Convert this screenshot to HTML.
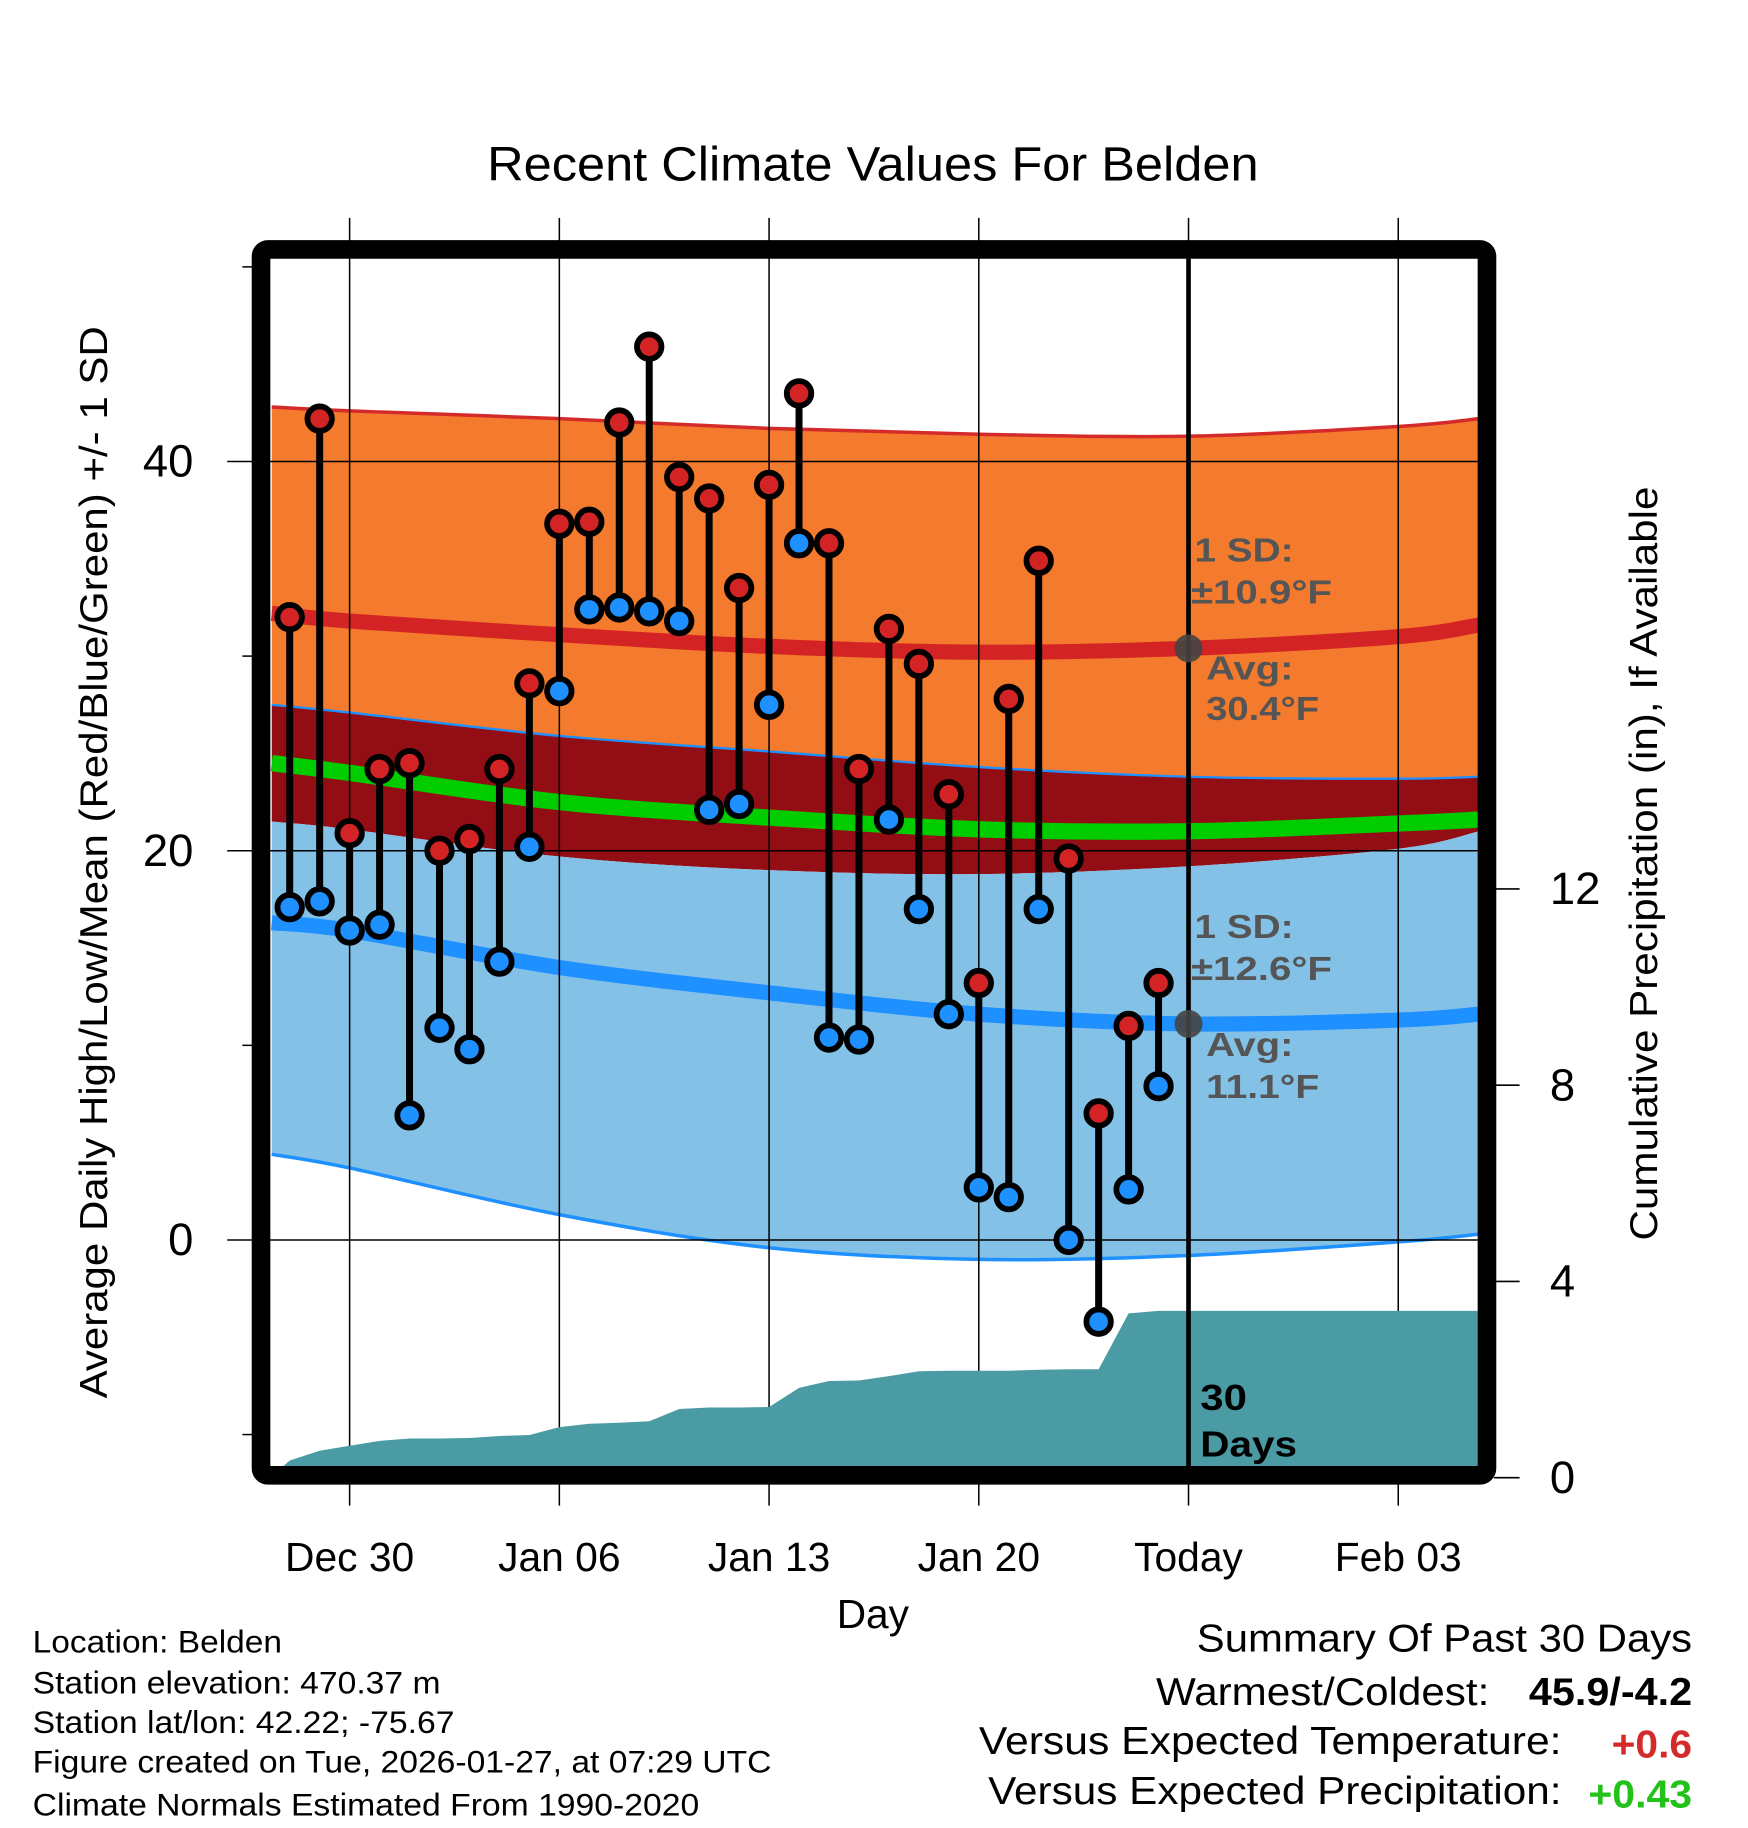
<!DOCTYPE html>
<html><head><meta charset="utf-8"><style>
html,body{margin:0;padding:0;background:#fff;}
svg{display:block;font-family:"Liberation Sans",Arial,sans-serif;}
</style></head><body>
<svg id="chart" width="1748" height="1828" viewBox="0 0 1500 1568.6" preserveAspectRatio="none" xmlns="http://www.w3.org/2000/svg">
<g id="bands"></g>
<g id="grid"></g>
<g id="precip"></g>
<g id="marks"></g>
<g id="axes"></g>
<text x="749" y="155" font-size="41" text-anchor="middle" textLength="662" lengthAdjust="spacingAndGlyphs">Recent Climate Values For Belden</text>
<text transform="translate(92,740) rotate(-90)" font-size="33" text-anchor="middle" textLength="920" lengthAdjust="spacingAndGlyphs">Average Daily High/Low/Mean (Red/Blue/Green) +/- 1 SD</text>
<text transform="translate(1422,741) rotate(-90)" font-size="33" text-anchor="middle" textLength="647" lengthAdjust="spacingAndGlyphs">Cumulative Precipitation (in), If Available</text>
<text x="749" y="1397" font-size="35" text-anchor="middle" textLength="62" lengthAdjust="spacingAndGlyphs">Day</text>
<g font-size="29" font-weight="bold" fill="#555">
<text x="1025" y="482" textLength="85" lengthAdjust="spacingAndGlyphs">1 SD:</text><text x="1022" y="518" textLength="121" lengthAdjust="spacingAndGlyphs">±10.9°F</text>
<text x="1035" y="583" textLength="75" lengthAdjust="spacingAndGlyphs">Avg:</text><text x="1035" y="618" textLength="97" lengthAdjust="spacingAndGlyphs">30.4°F</text></g>
<g font-size="29" font-weight="bold" fill="#555">
<text x="1025" y="805" textLength="85" lengthAdjust="spacingAndGlyphs">1 SD:</text><text x="1022" y="841" textLength="121" lengthAdjust="spacingAndGlyphs">±12.6°F</text>
<text x="1035" y="906" textLength="75" lengthAdjust="spacingAndGlyphs">Avg:</text><text x="1035" y="942" textLength="97" lengthAdjust="spacingAndGlyphs">11.1°F</text></g>
<g font-size="31" font-weight="bold"><text x="1030" y="1210" textLength="40" lengthAdjust="spacingAndGlyphs">30</text><text x="1030" y="1250" textLength="83" lengthAdjust="spacingAndGlyphs">Days</text></g>
<g font-size="27">
<text x="28" y="1418" textLength="214" lengthAdjust="spacingAndGlyphs">Location: Belden</text>
<text x="28" y="1453" textLength="350" lengthAdjust="spacingAndGlyphs">Station elevation: 470.37 m</text>
<text x="28" y="1487" textLength="362" lengthAdjust="spacingAndGlyphs">Station lat/lon: 42.22; -75.67</text>
<text x="28" y="1521" textLength="634" lengthAdjust="spacingAndGlyphs">Figure created on Tue, 2026-01-27, at 07:29 UTC</text>
<text x="28" y="1558" textLength="572" lengthAdjust="spacingAndGlyphs">Climate Normals Estimated From 1990-2020</text></g>
<g font-size="33">
<text x="1452" y="1417" text-anchor="end" textLength="425" lengthAdjust="spacingAndGlyphs">Summary Of Past 30 Days</text>
<text x="1278" y="1463" text-anchor="end" textLength="286" lengthAdjust="spacingAndGlyphs">Warmest/Coldest:</text>
<text x="1452" y="1463" text-anchor="end" font-weight="bold" textLength="140" lengthAdjust="spacingAndGlyphs">45.9/-4.2</text>
<text x="1340" y="1505" text-anchor="end" textLength="500" lengthAdjust="spacingAndGlyphs">Versus Expected Temperature:</text>
<text x="1452" y="1508" text-anchor="end" font-weight="bold" fill="#d42a2a" textLength="69" lengthAdjust="spacingAndGlyphs">+0.6</text>
<text x="1340" y="1548" text-anchor="end" textLength="492" lengthAdjust="spacingAndGlyphs">Versus Expected Precipitation:</text>
<text x="1452" y="1551" text-anchor="end" font-weight="bold" fill="#22c21a" textLength="89" lengthAdjust="spacingAndGlyphs">+0.43</text></g>
</svg>
<script>
const days = ["Dec28","Dec29","Dec30","Dec31","Jan01","Jan02","Jan03","Jan04","Jan05","Jan06","Jan07","Jan08","Jan09","Jan10","Jan11","Jan12","Jan13","Jan14","Jan15","Jan16","Jan17","Jan18","Jan19","Jan20","Jan21","Jan22","Jan23","Jan24","Jan25","Jan26"];
const highs = [32.0,42.2,20.9,24.2,24.5,20.0,20.6,24.2,28.6,36.8,36.9,42.0,45.9,39.2,38.1,33.5,38.8,43.5,35.8,24.2,31.4,29.6,22.9,13.2,27.8,34.9,19.6,6.5,11.0,13.2];
const lows = [17.1,17.4,15.9,16.2,6.4,10.9,9.8,14.3,20.2,28.2,32.4,32.5,32.3,31.8,22.1,22.4,27.5,35.8,10.4,10.3,21.6,17.0,11.6,2.7,2.2,17.0,0.0,-4.2,2.6,7.9];
const precipCum = [0.35,0.55,0.65,0.75,0.8,0.8,0.81,0.85,0.87,1.03,1.1,1.12,1.15,1.4,1.43,1.43,1.44,1.83,1.97,1.98,2.07,2.17,2.18,2.18,2.18,2.2,2.21,2.21,3.35,3.4];
const normDays = [-0.6,2,9,16,23,30,37,39.7];
const highPlus = [42.8,42.6,42.2,41.7,41.4,41.3,41.8,42.2];
const highAvg = [32.2,31.8,31.1,30.5,30.2,30.4,31.0,31.6];
const highMinus = [27.5,27.1,25.9,25.1,24.3,23.8,23.7,23.8];
const meanAvg = [24.5,24.0,22.5,21.7,21.1,21.0,21.4,21.6];
const lowPlus = [21.5,21.1,19.7,19.0,18.8,19.2,20.1,21.0];
const lowAvg = [16.3,15.9,14.0,12.7,11.6,11.1,11.3,11.6];
const lowMinus = [4.4,3.7,1.3,-0.4,-1.0,-0.8,-0.1,0.3];
const tempTicks = [0,20,40];
const precipTicks = [0,4,8,12];
const xTickLabels = ["Dec 30","Jan 06","Jan 13","Jan 20","Today","Feb 03"];
const xTickDays = [2,9,16,23,30,37];

const NS="http://www.w3.org/2000/svg";
const X0=232,X1=1268,Y0=222,Y1=1260;
const xs = d => 248.6 + d*25.71;
const yT = t => 1064 - t*16.7;
const yP = p => 1268 - p*42.1;
function mk(tag, parent, attrs){const e=document.createElementNS(NS,tag);for(const k in attrs)e.setAttribute(k,attrs[k]);parent.appendChild(e);return e;}
const G=id=>document.getElementById(id);

// smooth curve through points (Catmull-Rom)
function pts(arr){return normDays.map((n,i)=>[xs(n),yT(arr[i])]);}
function smooth(p,move){
  let d=(move?"M":"L")+p[0][0]+","+p[0][1];
  for(let i=0;i<p.length-1;i++){
    const p0=p[Math.max(0,i-1)],p1=p[i],p2=p[i+1],p3=p[Math.min(p.length-1,i+2)];
    const c1=[p1[0]+(p2[0]-p0[0])/6,p1[1]+(p2[1]-p0[1])/6];
    const c2=[p2[0]-(p3[0]-p1[0])/6,p2[1]-(p3[1]-p1[1])/6];
    d+="C"+c1+" "+c2+" "+p2;
  }
  return d;
}
function bandPath(top,bot){return smooth(pts(top),true)+"L"+smooth(pts(bot).reverse(),false).slice(1)+"Z";}
function linePath(arr){return smooth(pts(arr),true);}
const bands=G("bands");
let e;
e=mk("path",bands,{d:bandPath(highPlus,highMinus),fill:"#f47a2d"});

e=mk("path",bands,{d:bandPath(highMinus,lowPlus),fill:"#920d14"});

e=mk("path",bands,{d:bandPath(lowPlus,lowMinus),fill:"#84c1e7"});

e=mk("path",bands,{d:linePath(highPlus),fill:"none",stroke:"#d42a2a","stroke-width":3});

e=mk("path",bands,{d:linePath(highMinus),fill:"none",stroke:"#1e90ff","stroke-width":2});

e=mk("path",bands,{d:linePath(lowMinus),fill:"none",stroke:"#1e90ff","stroke-width":3});

e=mk("path",bands,{d:linePath(highAvg),fill:"none",stroke:"#d42325","stroke-width":13});

e=mk("path",bands,{d:linePath(meanAvg),fill:"none",stroke:"#00cc00","stroke-width":14});

e=mk("path",bands,{d:linePath(lowAvg),fill:"none",stroke:"#1e90ff","stroke-width":13});


const grid=G("grid");
xTickDays.forEach((d,i)=>{
  e=mk("line",grid,{x1:xs(d),x2:xs(d),y1:187,y2:1292,stroke:"#000","stroke-width":1.3});
  
  e=mk("text",grid,{x:xs(d),y:1348,"font-size":35,"text-anchor":"middle"});e.textContent=xTickLabels[i];
  
});
tempTicks.forEach(t=>{
  e=mk("line",grid,{x1:195,x2:X1,y1:yT(t),y2:yT(t),stroke:"#000","stroke-width":1.3});
  
  e=mk("text",grid,{x:166,y:yT(t)+13,"font-size":39,"text-anchor":"end"});e.textContent=t;
  
});
[-10,10,30,50].forEach(t=>{
  e=mk("line",grid,{x1:208,x2:218,y1:yT(t),y2:yT(t),stroke:"#000","stroke-width":1.3});
  
});
precipTicks.forEach(p=>{
  e=mk("line",grid,{x1:1282,x2:1304,y1:yP(p),y2:yP(p),stroke:"#000","stroke-width":1.3});
  
  e=mk("text",grid,{x:1330,y:yP(p)+13,"font-size":39,"text-anchor":"start"});e.textContent=p;
  
});

let pd="M"+X0+","+Y1+"L"+X0+","+yP(0);
precipCum.forEach((p,i)=>{pd+="L"+xs(i)+","+yP(p);});
pd+="L"+X1+","+yP(precipCum[precipCum.length-1])+"L"+X1+","+Y1+"Z";
e=mk("path",G("precip"),{d:pd,fill:"#4a9ba3"});


const marks=G("marks");
e=mk("line",marks,{x1:xs(30),x2:xs(30),y1:Y0,y2:Y1,stroke:"#000","stroke-width":4});

e=mk("circle",marks,{cx:xs(30),cy:yT(highAvg[5]),r:12,fill:"#444","fill-opacity":0.9});

e=mk("circle",marks,{cx:xs(30),cy:yT(lowAvg[5]),r:12,fill:"#444","fill-opacity":0.9});

days.forEach((d,i)=>{
  const x=xs(i);
  e=mk("line",marks,{x1:x,x2:x,y1:yT(highs[i]),y2:yT(lows[i]),stroke:"#000","stroke-width":6});
  
});
days.forEach((d,i)=>{
  const x=xs(i);
  e=mk("circle",marks,{cx:x,cy:yT(lows[i]),r:10.5,fill:"#1e90ff",stroke:"#000","stroke-width":5});
  
  e=mk("circle",marks,{cx:x,cy:yT(highs[i]),r:10.5,fill:"#d42325",stroke:"#000","stroke-width":5});
  
});

e=mk("rect",G("axes"),{x:224,y:214,width:1052,height:1052,rx:6,fill:"none",stroke:"#000","stroke-width":16});

</script>
</body></html>
